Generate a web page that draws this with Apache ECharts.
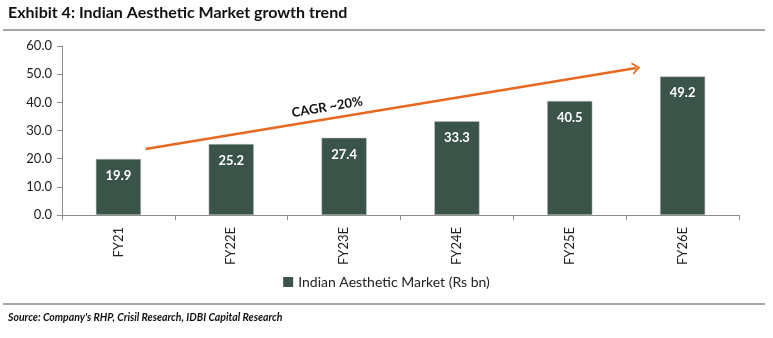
<!DOCTYPE html>
<html><head><meta charset="utf-8">
<script src="https://cdn.jsdelivr.net/npm/echarts@6/dist/echarts.min.js"></script>
<style>html,body{margin:0;padding:0;background:#fff}#c{width:773px;height:338px}</style>
</head><body><div id="c"></div>
<script>
const categories = ['FY21','FY22E','FY23E','FY24E','FY25E','FY26E'];
const marketValues = [19.9, 25.2, 27.4, 33.3, 40.5, 49.2];
const yTicks = [0, 10, 20, 30, 40, 50, 60];
const seriesName = 'Indian Aesthetic Market (Rs bn)';
const cagrText = 'CAGR ~20%';
// arrow annotation in data space (category index, value)
const arrowStart = [0.24, 23.4];
const arrowEnd = [4.59, 52.2];
const cagrPos = [1.85, 38.3];

const chart = echarts.init(document.getElementById('c'), null, {renderer:'canvas'});
const font = 'Lato, "Open Sans", sans-serif';
const staticGraphics = [
  {id: 'title', type: 'text', left: 8, top: 5, style: {text: 'Exhibit 4: Indian Aesthetic Market growth trend',
    font: 'bold 16px ' + font, fill: '#111'}},
  {id: 'sep1', type: 'rect', shape: {x: 3, y: 29, width: 762, height: 2}, style: {fill: '#a6a6a6'}},
  {id: 'sep2', type: 'rect', shape: {x: 3, y: 303, width: 762, height: 2}, style: {fill: '#a6a6a6'}},
  {id: 'src', type: 'text', left: 8, top: 312, style: {text: "Source: Company's RHP, Crisil Research, IDBI Capital Research",
    font: 'italic bold 10.5px ' + font, fill: '#111'}}
];
const option = {
  animation: false,
  grid: {left: 62, right: 34, top: 46, bottom: 123},
  legend: {
    data: [seriesName], bottom: 44, left: 'center',
    itemWidth: 10, itemHeight: 10, itemGap: 4, icon: 'rect',
    itemStyle: {borderWidth: 0},
    textStyle: {fontFamily: font, fontSize: 14, color: '#222'}
  },
  xAxis: [{
    type: 'category', data: categories,
    axisLine: {lineStyle: {color: '#8c8c8c'}},
    axisTick: {show: true, length: 5, lineStyle: {color: '#8c8c8c'}},
    axisLabel: {rotate: 90, margin: 12, fontFamily: font, fontSize: 13, color: '#222'}
  }, {
    type: 'value', min: -0.5, max: categories.length - 0.5, show: false
  }],
  yAxis: {
    type: 'value', min: yTicks[0], max: yTicks[yTicks.length-1], interval: 10,
    axisLine: {show: true, onZero: false, lineStyle: {color: '#8c8c8c'}},
    axisTick: {show: true, length: 5, lineStyle: {color: '#8c8c8c'}},
    splitLine: {show: false},
    axisLabel: {margin: 10, fontFamily: font, fontSize: 13, color: '#1a1a1a', formatter: v => v.toFixed(1)}
  },
  series: [{
    name: seriesName, type: 'bar', data: marketValues, barWidth: '40%',
    itemStyle: {color: '#3b5449', borderColor: '#b8bfbb', borderWidth: 0.5},
    label: {show: true, position: 'insideTop', distance: 10, color: '#fff',
      fontFamily: font, fontSize: 13, fontWeight: 'bold', formatter: p => p.value.toFixed(1)}
  }, {
    type: 'line', xAxisIndex: 1, data: [], silent: true,
    markLine: {
      silent: true, animation: false,
      symbol: ['none', 'path://M0,10 L5,0 L10,10 L8.3,10 L5,3.6 L1.7,10 Z'],
      symbolSize: [13, 8],
      label: {show: false},
      lineStyle: {color: '#e8681f', width: 2.5, type: 'solid'},
      data: [[{coord: arrowStart}, {coord: arrowEnd}]]
    }
  }],
  graphic: staticGraphics
};
chart.setOption(option);
const p = chart.convertToPixel({xAxisIndex: 1, yAxisIndex: 0}, cagrPos);
chart.setOption({graphic: staticGraphics.concat([
  {id: 'cagr', type: 'text', x: p[0], y: p[1], rotation: 9.5 * Math.PI / 180,
   style: {text: cagrText, font: 'bold 13px ' + font, fill: '#111', align: 'center', verticalAlign: 'middle'}}
])});
</script></body></html>
